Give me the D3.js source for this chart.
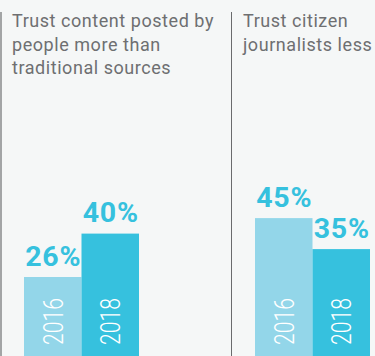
<!DOCTYPE html>
<html>
<head>
<meta charset="utf-8">
<script src="https://cdn.jsdelivr.net/npm/d3@7"></script>
<style>
  html, body { margin: 0; padding: 0; background: #f5f7f7; }
  svg { display: block; }
</style>
</head>
<body>
<div id="chart"></div>
<script>
// Panel headings (one array of lines per panel)
const panelTitles = [
  ["Trust content posted by", "people more than", "traditional sources"],
  ["Trust citizen", "journalists less"]
];
const years = ["2016", "2018"];
// Share of respondents, percent, per panel: [2016, 2018]
const values2016 = [26, 45];
const values2018 = [40, 35];

const W = 375, H = 356;
const colors = { "2016": "#93d6e9", "2018": "#36c1de" };

const svg = d3.select("#chart").append("svg")
  .attr("width", W).attr("height", H);

svg.append("rect").attr("width", W).attr("height", H).attr("fill", "#f5f7f7");

// Panel origins and bar positions within a panel
const panelX = d3.scaleBand().domain(d3.range(panelTitles.length)).range([24, 24 + 231 * panelTitles.length]);
const yearX = d3.scaleBand().domain(years).range([0, 115]).paddingInner(0);
const y = d3.scaleLinear().domain([0, 100]).range([357.6, 47.6]);

const rows = panelTitles.map((t, i) => ({
  i,
  title: t,
  bars: [
    { year: "2016", value: values2016[i] },
    { year: "2018", value: values2018[i] }
  ]
}));

const panel = svg.selectAll("g.panel").data(rows).join("g")
  .attr("class", "panel")
  .attr("transform", d => `translate(${panelX(d.i)},0)`);

// Divider line at the left edge of each panel
panel.append("line")
  .attr("x1", d => d.i === 0 ? -23 : -23.5)
  .attr("x2", d => d.i === 0 ? -23 : -23.5)
  .attr("y1", 12).attr("y2", H)
  .attr("stroke", d => d.i === 0 ? "#a3a5a6" : "#6a6b6d")
  .attr("stroke-width", d => d.i === 0 ? 2 : 1);

// Headings
panel.append("text")
  .attr("font-family", "Roboto, 'Noto Sans', sans-serif")
  .attr("font-size", 18)
  .attr("letter-spacing", 0.55)
  .attr("fill", "#6e6f71")
  .selectAll("tspan").data(d => d.title).join("tspan")
  .attr("x", -12)
  .attr("y", (l, j) => 27.3 + j * 23.3)
  .text(l => l);

// Bars
const bar = panel.selectAll("g.bar").data(d => d.bars).join("g").attr("class", "bar");

bar.append("rect")
  .attr("x", d => yearX(d.year))
  .attr("width", yearX.bandwidth())
  .attr("y", d => y(d.value))
  .attr("height", d => y(0) - y(d.value))
  .attr("fill", d => colors[d.year]);

// Value labels above bars
bar.append("text")
  .attr("x", d => yearX(d.year) + yearX.bandwidth() / 2 + 0.5)
  .attr("y", d => y(d.value) - 11.5)
  .attr("text-anchor", "middle")
  .attr("font-family", "Roboto, sans-serif")
  .attr("font-weight", 700)
  .attr("font-size", 28.5)
  .attr("letter-spacing", 0.8)
  .attr("fill", "#36c1de")
  .text(d => d.value + "%");

// Year labels running up inside each bar
bar.append("text")
  .attr("transform", d => `translate(${yearX(d.year) + yearX.bandwidth() / 2},345) rotate(-90)`)
  .attr("dy", "0.36em")
  .attr("text-anchor", "start")
  .attr("font-family", "Roboto, sans-serif")
  .attr("font-weight", 300)
  .attr("font-size", 28)
  .attr("textLength", 47)
  .attr("lengthAdjust", "spacingAndGlyphs")
  .attr("fill", "#ffffff")
  .text(d => d.year);
</script>
</body>
</html>
